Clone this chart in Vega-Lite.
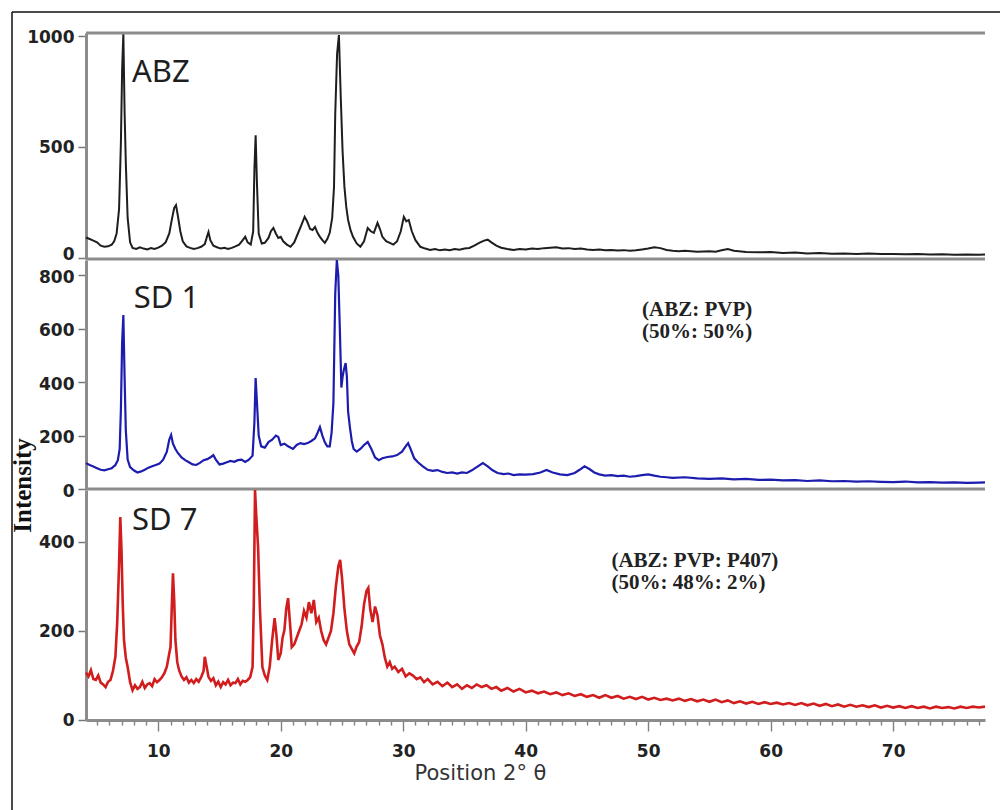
{
  "$schema": "https://vega.github.io/schema/vega-lite/v6.json",
  "width": 988,
  "height": 798,
  "padding": {"left": 10, "top": 12, "right": 0, "bottom": 0},
  "autosize": {"type": "pad"},
  "background": "white",
  "config": {
    "view": {"stroke": "#111111", "strokeWidth": 1.5, "strokeDash": [988, 1786, 798, 0]},
    "axis": {"grid": false}
  },
  "datasets": {
    "abz": [
      {"t":4.1,"i":92},{"t":4.4,"i":85},{"t":4.7,"i":78},{"t":5.0,"i":70},{"t":5.3,"i":55},{"t":5.6,"i":50},{"t":5.9,"i":52},{"t":6.2,"i":60},{"t":6.4,"i":75},{"t":6.6,"i":110},{"t":6.8,"i":220},{"t":6.95,"i":520},{"t":7.05,"i":850},{"t":7.15,"i":1012},{"t":7.25,"i":660},{"t":7.35,"i":430},{"t":7.5,"i":180},{"t":7.7,"i":70},{"t":7.9,"i":45},{"t":8.2,"i":40},{"t":8.5,"i":48},{"t":8.8,"i":42},{"t":9.1,"i":38},{"t":9.4,"i":44},{"t":9.7,"i":40},{"t":10.0,"i":46},{"t":10.3,"i":55},{"t":10.6,"i":70},{"t":10.9,"i":110},{"t":11.1,"i":170},{"t":11.3,"i":225},{"t":11.45,"i":238},{"t":11.6,"i":190},{"t":11.8,"i":120},{"t":12.0,"i":75},{"t":12.3,"i":52},{"t":12.6,"i":45},{"t":12.9,"i":40},{"t":13.2,"i":44},{"t":13.5,"i":50},{"t":13.8,"i":62},{"t":14.0,"i":100},{"t":14.1,"i":117},{"t":14.25,"i":80},{"t":14.5,"i":55},{"t":14.8,"i":48},{"t":15.1,"i":42},{"t":15.4,"i":46},{"t":15.7,"i":40},{"t":16.0,"i":45},{"t":16.3,"i":52},{"t":16.6,"i":60},{"t":16.9,"i":80},{"t":17.1,"i":95},{"t":17.3,"i":70},{"t":17.55,"i":60},{"t":17.75,"i":120},{"t":17.85,"i":400},{"t":17.95,"i":553},{"t":18.05,"i":350},{"t":18.2,"i":110},{"t":18.45,"i":65},{"t":18.7,"i":68},{"t":19.0,"i":90},{"t":19.2,"i":120},{"t":19.4,"i":135},{"t":19.6,"i":110},{"t":19.8,"i":90},{"t":20.0,"i":95},{"t":20.2,"i":75},{"t":20.5,"i":60},{"t":20.8,"i":50},{"t":21.1,"i":70},{"t":21.4,"i":110},{"t":21.7,"i":150},{"t":21.95,"i":185},{"t":22.15,"i":165},{"t":22.4,"i":130},{"t":22.6,"i":126},{"t":22.8,"i":140},{"t":23.0,"i":113},{"t":23.2,"i":95},{"t":23.4,"i":80},{"t":23.6,"i":68},{"t":23.8,"i":85},{"t":24.0,"i":113},{"t":24.2,"i":180},{"t":24.35,"i":320},{"t":24.45,"i":650},{"t":24.6,"i":920},{"t":24.75,"i":1005},{"t":24.9,"i":725},{"t":25.05,"i":480},{"t":25.2,"i":320},{"t":25.35,"i":230},{"t":25.5,"i":171},{"t":25.7,"i":125},{"t":25.9,"i":95},{"t":26.2,"i":65},{"t":26.5,"i":50},{"t":26.8,"i":75},{"t":27.1,"i":135},{"t":27.35,"i":120},{"t":27.6,"i":113},{"t":27.9,"i":158},{"t":28.1,"i":130},{"t":28.3,"i":95},{"t":28.6,"i":75},{"t":28.9,"i":68},{"t":29.2,"i":60},{"t":29.5,"i":75},{"t":29.8,"i":120},{"t":30.05,"i":185},{"t":30.25,"i":165},{"t":30.45,"i":171},{"t":30.7,"i":120},{"t":31.0,"i":80},{"t":31.4,"i":50},{"t":31.8,"i":42},{"t":32.2,"i":36},{"t":32.6,"i":40},{"t":33.0,"i":34},{"t":33.4,"i":38},{"t":33.8,"i":35},{"t":34.2,"i":40},{"t":34.6,"i":37},{"t":35.0,"i":42},{"t":35.4,"i":45},{"t":35.8,"i":55},{"t":36.2,"i":68},{"t":36.6,"i":78},{"t":36.9,"i":82},{"t":37.2,"i":70},{"t":37.6,"i":55},{"t":38.0,"i":46},{"t":38.5,"i":40},{"t":39.0,"i":36},{"t":39.5,"i":40},{"t":40.0,"i":38},{"t":40.5,"i":42},{"t":41.0,"i":40},{"t":41.5,"i":44},{"t":42.0,"i":46},{"t":42.5,"i":48},{"t":43.0,"i":42},{"t":43.5,"i":44},{"t":44.0,"i":40},{"t":44.5,"i":42},{"t":45.0,"i":38},{"t":45.5,"i":36},{"t":46.0,"i":38},{"t":46.5,"i":34},{"t":47.0,"i":36},{"t":47.5,"i":33},{"t":48.0,"i":35},{"t":48.5,"i":32},{"t":49.0,"i":34},{"t":49.5,"i":38},{"t":50.0,"i":42},{"t":50.5,"i":48},{"t":51.0,"i":44},{"t":51.5,"i":36},{"t":52.0,"i":32},{"t":52.5,"i":30},{"t":53.0,"i":32},{"t":54.0,"i":28},{"t":55.0,"i":30},{"t":55.5,"i":28},{"t":56.0,"i":34},{"t":56.5,"i":40},{"t":57.0,"i":32},{"t":58.0,"i":27},{"t":59.0,"i":25},{"t":60.0,"i":26},{"t":61.0,"i":22},{"t":62.0,"i":24},{"t":63.0,"i":20},{"t":64.0,"i":22},{"t":65.0,"i":19},{"t":66.0,"i":20},{"t":67.0,"i":18},{"t":68.0,"i":20},{"t":69.0,"i":17},{"t":70.0,"i":18},{"t":71.0,"i":16},{"t":72.0,"i":17},{"t":73.0,"i":15},{"t":74.0,"i":16},{"t":75.0,"i":14},{"t":76.0,"i":15},{"t":77.0,"i":14},{"t":77.5,"i":15}
    ],
    "sd1": [
      {"t":4.1,"i":97},{"t":4.4,"i":90},{"t":4.7,"i":84},{"t":5.0,"i":78},{"t":5.3,"i":72},{"t":5.6,"i":70},{"t":5.9,"i":74},{"t":6.2,"i":78},{"t":6.5,"i":90},{"t":6.7,"i":108},{"t":6.85,"i":150},{"t":6.95,"i":300},{"t":7.05,"i":550},{"t":7.15,"i":652},{"t":7.25,"i":420},{"t":7.35,"i":220},{"t":7.5,"i":110},{"t":7.7,"i":82},{"t":8.0,"i":70},{"t":8.3,"i":62},{"t":8.6,"i":66},{"t":8.9,"i":72},{"t":9.2,"i":80},{"t":9.5,"i":85},{"t":9.8,"i":90},{"t":10.1,"i":95},{"t":10.4,"i":110},{"t":10.7,"i":140},{"t":10.9,"i":185},{"t":11.05,"i":202},{"t":11.2,"i":170},{"t":11.4,"i":150},{"t":11.6,"i":135},{"t":11.9,"i":118},{"t":12.2,"i":108},{"t":12.5,"i":100},{"t":12.8,"i":92},{"t":13.1,"i":90},{"t":13.4,"i":98},{"t":13.7,"i":108},{"t":14.0,"i":112},{"t":14.3,"i":120},{"t":14.5,"i":127},{"t":14.7,"i":110},{"t":15.0,"i":92},{"t":15.3,"i":95},{"t":15.6,"i":100},{"t":15.9,"i":105},{"t":16.2,"i":102},{"t":16.5,"i":108},{"t":16.8,"i":110},{"t":17.1,"i":101},{"t":17.4,"i":110},{"t":17.7,"i":125},{"t":17.85,"i":250},{"t":17.95,"i":416},{"t":18.05,"i":330},{"t":18.2,"i":200},{"t":18.4,"i":160},{"t":18.7,"i":155},{"t":19.0,"i":176},{"t":19.3,"i":185},{"t":19.6,"i":200},{"t":19.8,"i":195},{"t":20.0,"i":165},{"t":20.3,"i":170},{"t":20.6,"i":160},{"t":21.0,"i":150},{"t":21.3,"i":165},{"t":21.6,"i":172},{"t":21.9,"i":168},{"t":22.2,"i":172},{"t":22.5,"i":180},{"t":22.8,"i":190},{"t":23.0,"i":210},{"t":23.2,"i":232},{"t":23.4,"i":200},{"t":23.6,"i":175},{"t":23.8,"i":160},{"t":24.0,"i":160},{"t":24.15,"i":210},{"t":24.3,"i":322},{"t":24.45,"i":734},{"t":24.58,"i":858},{"t":24.7,"i":800},{"t":24.82,"i":607},{"t":24.95,"i":380},{"t":25.05,"i":420},{"t":25.15,"i":446},{"t":25.3,"i":472},{"t":25.4,"i":420},{"t":25.5,"i":290},{"t":25.65,"i":230},{"t":25.8,"i":180},{"t":25.95,"i":150},{"t":26.2,"i":140},{"t":26.5,"i":150},{"t":26.8,"i":165},{"t":27.1,"i":176},{"t":27.4,"i":150},{"t":27.7,"i":118},{"t":28.0,"i":108},{"t":28.3,"i":115},{"t":28.7,"i":120},{"t":29.1,"i":122},{"t":29.5,"i":127},{"t":29.9,"i":140},{"t":30.2,"i":160},{"t":30.4,"i":172},{"t":30.6,"i":150},{"t":30.9,"i":115},{"t":31.2,"i":100},{"t":31.6,"i":85},{"t":32.0,"i":72},{"t":32.4,"i":68},{"t":32.8,"i":71},{"t":33.2,"i":64},{"t":33.6,"i":60},{"t":34.0,"i":62},{"t":34.4,"i":58},{"t":34.8,"i":62},{"t":35.2,"i":60},{"t":35.6,"i":70},{"t":36.0,"i":82},{"t":36.5,"i":97},{"t":36.9,"i":85},{"t":37.3,"i":70},{"t":37.7,"i":60},{"t":38.2,"i":56},{"t":38.6,"i":58},{"t":39.0,"i":52},{"t":39.5,"i":55},{"t":40.0,"i":54},{"t":40.6,"i":56},{"t":41.2,"i":62},{"t":41.7,"i":71},{"t":42.2,"i":62},{"t":42.8,"i":55},{"t":43.4,"i":52},{"t":44.0,"i":60},{"t":44.4,"i":72},{"t":44.8,"i":85},{"t":45.2,"i":75},{"t":45.6,"i":62},{"t":46.0,"i":55},{"t":46.5,"i":50},{"t":47.0,"i":52},{"t":47.5,"i":48},{"t":48.0,"i":50},{"t":48.5,"i":46},{"t":49.0,"i":48},{"t":49.5,"i":52},{"t":50.0,"i":55},{"t":50.5,"i":50},{"t":51.0,"i":46},{"t":51.5,"i":44},{"t":52.0,"i":42},{"t":53.0,"i":44},{"t":54.0,"i":40},{"t":55.0,"i":38},{"t":56.0,"i":40},{"t":57.0,"i":36},{"t":58.0,"i":38},{"t":59.0,"i":34},{"t":60.0,"i":35},{"t":61.0,"i":32},{"t":62.0,"i":33},{"t":63.0,"i":30},{"t":64.0,"i":32},{"t":65.0,"i":29},{"t":66.0,"i":30},{"t":67.0,"i":28},{"t":68.0,"i":29},{"t":69.0,"i":27},{"t":70.0,"i":26},{"t":71.0,"i":28},{"t":72.0,"i":25},{"t":73.0,"i":26},{"t":74.0,"i":24},{"t":75.0,"i":25},{"t":76.0,"i":23},{"t":77.0,"i":24},{"t":77.5,"i":25}
    ],
    "sd7": [
      {"t":4.1,"i":106},{"t":4.3,"i":98},{"t":4.5,"i":112},{"t":4.7,"i":92},{"t":4.9,"i":90},{"t":5.1,"i":100},{"t":5.3,"i":84},{"t":5.5,"i":80},{"t":5.7,"i":74},{"t":5.9,"i":86},{"t":6.1,"i":90},{"t":6.3,"i":110},{"t":6.5,"i":142},{"t":6.65,"i":220},{"t":6.8,"i":350},{"t":6.9,"i":456},{"t":7.0,"i":380},{"t":7.1,"i":260},{"t":7.2,"i":180},{"t":7.35,"i":140},{"t":7.5,"i":119},{"t":7.7,"i":85},{"t":7.9,"i":67},{"t":8.1,"i":78},{"t":8.3,"i":70},{"t":8.5,"i":74},{"t":8.7,"i":86},{"t":8.9,"i":72},{"t":9.1,"i":80},{"t":9.3,"i":83},{"t":9.5,"i":76},{"t":9.7,"i":92},{"t":9.9,"i":85},{"t":10.1,"i":90},{"t":10.3,"i":96},{"t":10.5,"i":105},{"t":10.7,"i":120},{"t":10.9,"i":150},{"t":11.0,"i":164},{"t":11.1,"i":250},{"t":11.2,"i":330},{"t":11.3,"i":270},{"t":11.4,"i":180},{"t":11.55,"i":130},{"t":11.7,"i":112},{"t":11.9,"i":98},{"t":12.1,"i":90},{"t":12.3,"i":96},{"t":12.5,"i":84},{"t":12.7,"i":90},{"t":12.9,"i":83},{"t":13.1,"i":92},{"t":13.3,"i":86},{"t":13.5,"i":96},{"t":13.7,"i":110},{"t":13.8,"i":142},{"t":13.95,"i":120},{"t":14.1,"i":97},{"t":14.3,"i":88},{"t":14.5,"i":94},{"t":14.7,"i":78},{"t":14.9,"i":86},{"t":15.1,"i":74},{"t":15.3,"i":85},{"t":15.5,"i":80},{"t":15.7,"i":90},{"t":15.9,"i":78},{"t":16.1,"i":84},{"t":16.3,"i":83},{"t":16.5,"i":92},{"t":16.7,"i":80},{"t":16.9,"i":88},{"t":17.1,"i":86},{"t":17.3,"i":90},{"t":17.5,"i":96},{"t":17.7,"i":119},{"t":17.8,"i":260},{"t":17.9,"i":517},{"t":18.0,"i":460},{"t":18.15,"i":389},{"t":18.3,"i":250},{"t":18.5,"i":119},{"t":18.7,"i":100},{"t":18.9,"i":90},{"t":19.1,"i":120},{"t":19.3,"i":180},{"t":19.5,"i":229},{"t":19.65,"i":190},{"t":19.8,"i":135},{"t":20.0,"i":150},{"t":20.15,"i":185},{"t":20.3,"i":202},{"t":20.45,"i":250},{"t":20.6,"i":274},{"t":20.75,"i":220},{"t":20.9,"i":164},{"t":21.1,"i":170},{"t":21.3,"i":185},{"t":21.5,"i":200},{"t":21.7,"i":215},{"t":21.9,"i":245},{"t":22.1,"i":230},{"t":22.3,"i":265},{"t":22.5,"i":240},{"t":22.7,"i":270},{"t":22.9,"i":220},{"t":23.1,"i":230},{"t":23.3,"i":200},{"t":23.5,"i":180},{"t":23.7,"i":170},{"t":23.9,"i":185},{"t":24.1,"i":200},{"t":24.3,"i":240},{"t":24.5,"i":300},{"t":24.7,"i":345},{"t":24.85,"i":360},{"t":25.0,"i":320},{"t":25.2,"i":250},{"t":25.4,"i":200},{"t":25.6,"i":170},{"t":25.8,"i":160},{"t":26.0,"i":150},{"t":26.2,"i":165},{"t":26.4,"i":175},{"t":26.6,"i":210},{"t":26.8,"i":260},{"t":27.0,"i":290},{"t":27.15,"i":297},{"t":27.3,"i":250},{"t":27.5,"i":220},{"t":27.7,"i":255},{"t":27.9,"i":235},{"t":28.1,"i":190},{"t":28.3,"i":170},{"t":28.5,"i":140},{"t":28.7,"i":120},{"t":28.9,"i":130},{"t":29.1,"i":115},{"t":29.3,"i":120},{"t":29.6,"i":108},{"t":29.9,"i":115},{"t":30.2,"i":98},{"t":30.5,"i":105},{"t":30.8,"i":100},{"t":31.1,"i":92},{"t":31.4,"i":96},{"t":31.7,"i":85},{"t":32.0,"i":92},{"t":32.4,"i":80},{"t":32.8,"i":86},{"t":33.2,"i":76},{"t":33.6,"i":84},{"t":34.0,"i":74},{"t":34.4,"i":80},{"t":34.8,"i":70},{"t":35.2,"i":78},{"t":35.6,"i":72},{"t":36.0,"i":80},{"t":36.4,"i":74},{"t":36.8,"i":78},{"t":37.2,"i":70},{"t":37.6,"i":74},{"t":38.0,"i":66},{"t":38.5,"i":72},{"t":39.0,"i":64},{"t":39.5,"i":70},{"t":40.0,"i":62},{"t":40.5,"i":66},{"t":41.0,"i":60},{"t":41.5,"i":64},{"t":42.0,"i":58},{"t":42.5,"i":62},{"t":43.0,"i":56},{"t":43.5,"i":60},{"t":44.0,"i":54},{"t":44.5,"i":58},{"t":45.0,"i":52},{"t":45.5,"i":56},{"t":46.0,"i":50},{"t":46.5,"i":56},{"t":47.0,"i":50},{"t":47.5,"i":54},{"t":48.0,"i":48},{"t":48.5,"i":52},{"t":49.0,"i":47},{"t":49.5,"i":52},{"t":50.0,"i":46},{"t":50.5,"i":50},{"t":51.0,"i":45},{"t":51.5,"i":48},{"t":52.0,"i":44},{"t":52.5,"i":48},{"t":53.0,"i":43},{"t":53.5,"i":47},{"t":54.0,"i":42},{"t":54.5,"i":46},{"t":55.0,"i":41},{"t":55.5,"i":46},{"t":56.0,"i":40},{"t":56.5,"i":44},{"t":57.0,"i":38},{"t":57.5,"i":42},{"t":58.0,"i":37},{"t":58.5,"i":41},{"t":59.0,"i":36},{"t":59.5,"i":40},{"t":60.0,"i":36},{"t":60.5,"i":39},{"t":61.0,"i":35},{"t":61.5,"i":38},{"t":62.0,"i":34},{"t":62.5,"i":38},{"t":63.0,"i":33},{"t":63.5,"i":37},{"t":64.0,"i":32},{"t":64.5,"i":36},{"t":65.0,"i":31},{"t":65.5,"i":35},{"t":66.0,"i":30},{"t":66.5,"i":34},{"t":67.0,"i":30},{"t":67.5,"i":33},{"t":68.0,"i":29},{"t":68.5,"i":33},{"t":69.0,"i":28},{"t":69.5,"i":32},{"t":70.0,"i":28},{"t":70.5,"i":31},{"t":71.0,"i":27},{"t":71.5,"i":31},{"t":72.0,"i":27},{"t":72.5,"i":30},{"t":73.0,"i":26},{"t":73.5,"i":30},{"t":74.0,"i":27},{"t":74.5,"i":29},{"t":75.0,"i":26},{"t":75.5,"i":30},{"t":76.0,"i":27},{"t":76.5,"i":30},{"t":77.0,"i":28},{"t":77.5,"i":30}
    ]
  },
  "layer": [
    {
      "data": {"name": "abz"},
      "layer": [
        {
          "mark": {"type": "line", "color": "#1e1e1e", "strokeWidth": 2, "clip": true},
          "encoding": {
            "x": {"field": "t", "type": "quantitative",
                  "scale": {"domain": [4.1, 77.5], "range": [74, 973], "nice": false, "zero": false}},
            "y": {"field": "i", "type": "quantitative",
                  "scale": {"domain": [-5, 1014], "range": [247, 21], "nice": false, "zero": false},
                  "axis": {"orient": "left", "offset": -74, "values": [0, 500, 1000], "format": "d", "title": null,
                           "domainColor": "#8c8c8c", "domainWidth": 3, "tickColor": "#777777", "tickSize": 8, "tickWidth": 1.5,
                           "labelOffset": {"condition": {"test": "datum.value === 0", "value": -3}, "value": 1},
                           "labelFont": "DejaVu Sans", "labelFontWeight": "bold", "labelFontSize": 17, "labelColor": "#222222", "labelPadding": 4}}
          }
        },
        {
          "data": {"values": [{}]},
          "mark": {"type": "rule", "color": "#8c8c8c", "strokeWidth": 3},
          "encoding": {"x": {"datum": 4.1}, "x2": {"datum": 77.5}, "y": {"datum": 1014}}
        },
        {
          "data": {"values": [{}]},
          "mark": {"type": "rule", "color": "#8c8c8c", "strokeWidth": 3},
          "encoding": {"x": {"datum": 4.1}, "x2": {"datum": 77.5}, "y": {"datum": -5}}
        },
        {
          "data": {"values": [{}]},
          "mark": {"type": "text", "font": "Noto Sans", "fontSize": 31, "color": "#1e1e1e", "align": "left", "baseline": "alphabetic"},
          "encoding": {"x": {"datum": 7.85}, "y": {"datum": 793}, "text": {"value": "ABZ"}}
        }
      ]
    },
    {
      "data": {"name": "sd1"},
      "layer": [
        {
          "mark": {"type": "line", "color": "#1c1cae", "strokeWidth": 2.2, "clip": true},
          "encoding": {
            "x": {"field": "t", "type": "quantitative",
                  "scale": {"domain": [4.1, 77.5], "range": [74, 973], "nice": false, "zero": false}},
            "y": {"field": "i", "type": "quantitative",
                  "scale": {"domain": [0, 858], "range": [477, 248], "nice": false, "zero": false},
                  "axis": {"orient": "left", "offset": -74, "values": [0, 200, 400, 600, 800], "format": "d",
                           "domainColor": "#8c8c8c", "domainWidth": 3, "tickColor": "#777777", "tickSize": 8, "tickWidth": 1.5,
                           "labelOffset": 2,
                           "labelFont": "DejaVu Sans", "labelFontWeight": "bold", "labelFontSize": 17, "labelColor": "#222222", "labelPadding": 4,
                           "title": "Intensity", "titleFont": "Liberation Serif", "titleFontWeight": "bold", "titleFontSize": 25, "titleColor": "#111111",
                           "titleAngle": -90, "titleAlign": "center", "titleBaseline": "middle", "titleX": -64, "titleY": 473}}
          }
        },
        {
          "data": {"values": [{}]},
          "mark": {"type": "rule", "color": "#8c8c8c", "strokeWidth": 3},
          "encoding": {"x": {"datum": 4.1}, "x2": {"datum": 77.5}, "y": {"datum": 0}}
        },
        {
          "data": {"values": [{}]},
          "mark": {"type": "text", "font": "Noto Sans", "fontSize": 31, "color": "#1e1e1e", "align": "left", "baseline": "alphabetic"},
          "encoding": {"x": {"datum": 8.0}, "y": {"datum": 678}, "text": {"value": "SD 1"}}
        },
        {
          "data": {"values": [{}]},
          "mark": {"type": "text", "font": "Liberation Serif", "fontWeight": "bold", "fontSize": 21, "color": "#222222", "align": "left", "baseline": "alphabetic", "lineBreak": "\n", "lineHeight": 22},
          "encoding": {"x": {"datum": 49.5}, "y": {"datum": 648}, "text": {"value": "(ABZ: PVP)\n(50%: 50%)"}}
        }
      ]
    },
    {
      "data": {"name": "sd7"},
      "layer": [
        {
          "mark": {"type": "line", "color": "#d11d1d", "strokeWidth": 2.6, "clip": true},
          "encoding": {
            "x": {"field": "t", "type": "quantitative",
                  "scale": {"domain": [4.1, 77.5], "range": [74, 973], "nice": false, "zero": false},
                  "axis": {"orient": "bottom", "offset": -90, "tickCount": 200, "format": "d",
                           "values": [5,6,7,8,9,10,11,12,13,14,15,16,17,18,19,20,21,22,23,24,25,26,27,28,29,30,31,32,33,34,35,36,37,38,39,40,41,42,43,44,45,46,47,48,49,50,51,52,53,54,55,56,57,58,59,60,61,62,63,64,65,66,67,68,69,70,71,72,73,74,75,76,77],
                           "labelExpr": "datum.value % 10 === 0 ? datum.label : ''", "labelOverlap": false, "labelFlush": false,
                           "tickSize": {"condition": {"test": "datum.value % 10 === 0", "value": 11}, "value": 5},
                           "domainColor": "#8c8c8c", "domainWidth": 3, "tickColor": "#808080", "tickWidth": 1.4,
                           "labelFont": "DejaVu Sans", "labelFontWeight": "bold", "labelFontSize": 17, "labelColor": "#222222", "labelPadding": 12,
                           "title": "Position 2° θ", "titleFont": "DejaVu Sans", "titleFontWeight": "normal", "titleFontSize": 21, "titleColor": "#333333",
                           "titleAlign": "center", "titleBaseline": "middle", "titleX": 468, "titleY": 53}},
            "y": {"field": "i", "type": "quantitative",
                  "scale": {"domain": [0, 517], "range": [708, 478], "nice": false, "zero": false},
                  "axis": {"orient": "left", "offset": -74, "values": [0, 200, 400], "format": "d", "title": null,
                           "domainColor": "#8c8c8c", "domainWidth": 3, "tickColor": "#777777", "tickSize": 8, "tickWidth": 1.5,
                           "labelFont": "DejaVu Sans", "labelFontWeight": "bold", "labelFontSize": 17, "labelColor": "#222222", "labelPadding": 4}}
          }
        },
        {
          "data": {"values": [{}]},
          "mark": {"type": "text", "font": "Noto Sans", "fontSize": 31, "color": "#1e1e1e", "align": "left", "baseline": "alphabetic"},
          "encoding": {"x": {"datum": 7.85}, "y": {"datum": 427}, "text": {"value": "SD 7"}}
        },
        {
          "data": {"values": [{}]},
          "mark": {"type": "text", "font": "Liberation Serif", "fontWeight": "bold", "fontSize": 21, "color": "#222222", "align": "left", "baseline": "alphabetic", "lineBreak": "\n", "lineHeight": 22},
          "encoding": {"x": {"datum": 47.0}, "y": {"datum": 344}, "text": {"value": "(ABZ: PVP: P407)\n(50%: 48%: 2%)"}}
        }
      ]
    }
  ],
  "resolve": {"scale": {"y": "independent"}}
}
